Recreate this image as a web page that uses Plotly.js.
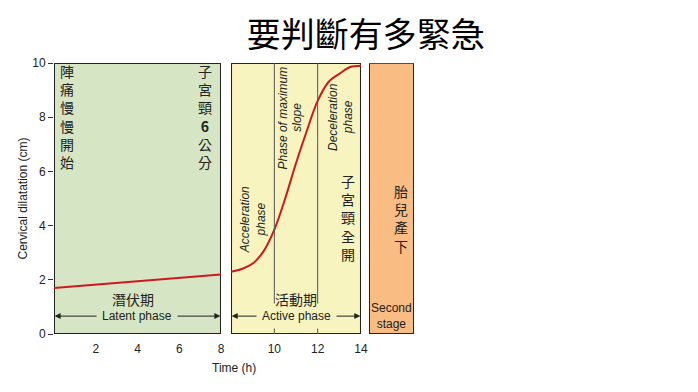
<!DOCTYPE html>
<html>
<head>
<meta charset="utf-8">
<script src="https://cdn.plot.ly/plotly-3.0.1.min.js"></script>
<style>html,body{margin:0;padding:0;background:#fff;}#chart{width:698px;height:392px;}</style>
</head>
<body>
<div id="chart"></div>
<script>
// Data
const latentTime = [0, 8];
const latentDilation = [1.7, 2.2];
const activeTime = [8, 8.5, 9, 9.5, 10, 10.5, 11, 11.5, 12, 12.5, 13, 13.5, 14];
const activeDilation = [2.3, 2.4, 2.6, 3.05, 3.85, 5.0, 6.3, 7.5, 8.6, 9.3, 9.6, 9.85, 9.9];
const latentTicks = [2, 4, 6, 8];
const activeTicks = [10, 12, 14];
const phaseBoundaries = [10, 12];
const yTicks = [0, 2, 4, 6, 8, 10];

const GREEN = '#d6e6c4', YELLOW = '#f8f4c0', ORANGE = '#f9bd84';
const RED = '#cc1a1a', BORDER = '#222';
const CJK = '"Noto Sans CJK TC", "Noto Sans CJK SC", sans-serif';
const LAT = '"Liberation Sans", Arial, sans-serif';

const traces = [
  {x: latentTime, y: latentDilation, xaxis: 'x', yaxis: 'y', mode: 'lines',
   line: {color: RED, width: 2}, hoverinfo: 'skip', showlegend: false},
  {x: activeTime, y: activeDilation, xaxis: 'x2', yaxis: 'y', mode: 'lines',
   line: {color: RED, width: 2, shape: 'spline', smoothing: 1}, hoverinfo: 'skip', showlegend: false}
];

const shapes = [
  {type: 'rect', xref: 'x', yref: 'y', x0: 0, x1: 8, y0: 0, y1: 10, fillcolor: GREEN, line: {color: BORDER, width: 2}, layer: 'below'},
  {type: 'rect', xref: 'x2', yref: 'y', x0: 8, x1: 14, y0: 0, y1: 10, fillcolor: YELLOW, line: {color: BORDER, width: 2}, layer: 'below'},
  {type: 'rect', xref: 'x3', yref: 'y', x0: 0, x1: 1, y0: 0, y1: 10, fillcolor: ORANGE, line: {color: BORDER, width: 2}, layer: 'below'},
  {type: 'line', xref: 'x3', yref: 'y', x0: 0, x1: 1, y0: 10, y1: 10, line: {color: RED, width: 2}}
];
phaseBoundaries.forEach(v => shapes.push({type: 'line', xref: 'x2', yref: 'y', x0: v, x1: v, y0: 0, y1: 10, line: {color: '#555', width: 1}}));

function vert(s) { return s.split('').join('<br>'); }

const ann = [];
// arrows
function arrow(xr, from, to, y) {
  ann.push({xref: xr, yref: 'y', x: to, y: y, ax: from, ay: y, axref: xr, ayref: 'y', text: '', showarrow: true,
    arrowhead: 2, arrowsize: 1.2, arrowwidth: 1, arrowcolor: '#222'});
}
arrow('x', 4, 0.03, 0.66); arrow('x', 4, 7.97, 0.66);
arrow('x2', 11, 8.03, 0.66); arrow('x2', 11, 13.97, 0.66);
ann.push({xref: 'x', yref: 'y', x: 4, y: 0.66, text: 'Latent phase', showarrow: false, bgcolor: GREEN, borderpad: 5,
  font: {family: LAT, size: 12, color: '#222'}});
ann.push({xref: 'x2', yref: 'y', x: 11, y: 0.66, text: 'Active phase', showarrow: false, bgcolor: YELLOW, borderpad: 5,
  font: {family: LAT, size: 12, color: '#222'}});
ann.push({xref: 'x', yref: 'y', x: 3.8, y: 1.3, text: '潛伏期', showarrow: false, font: {family: CJK, size: 14, color: '#222'}});
ann.push({xref: 'x2', yref: 'y', x: 11.02, y: 1.3, text: '活動期', showarrow: false, font: {family: CJK, size: 14, color: '#222'}});
ann.push({xref: 'x3', yref: 'y', x: 0.5, y: 0.66, text: 'Second<br>stage', showarrow: false, font: {family: LAT, size: 12, color: '#222'}});

// vertical CJK text
ann.push({xref: 'x', yref: 'y', x: 0.63, y: 8.04, text: vert('陣痛慢慢開始'), showarrow: false, font: {family: CJK, size: 14, color: '#222'}});
ann.push({xref: 'x', yref: 'y', x: 7.24, y: 8.04, text: '子<br>宮<br>頸<br><b>6</b><br>公<br>分', showarrow: false, font: {family: CJK, size: 14, color: '#222'}});
ann.push({xref: 'x2', yref: 'y', x: 13.4, y: 4.3, text: vert('子宮頸全開'), showarrow: false, font: {family: CJK, size: 14, color: '#222'}});
ann.push({xref: 'x3', yref: 'y', x: 0.7, y: 4.28, text: vert('胎兒產下'), showarrow: false, font: {family: CJK, size: 14, color: '#222'}});

// rotated phase labels
function rot(x, y, t) {
  ann.push({xref: 'x2', yref: 'y', x: x, y: y, text: '<i>' + t + '</i>', textangle: -90, showarrow: false,
    font: {family: LAT, size: 12, color: '#222'}});
}
rot(8.65, 4.2, 'Acceleration'); rot(9.4, 4.24, 'phase');
rot(10.42, 7.97, 'Phase of maximum'); rot(11.07, 8.0, 'slope');
rot(12.7, 8.0, 'Deceleration'); rot(13.4, 8.0, 'phase');

// axis titles
ann.push({xref: 'paper', yref: 'paper', x: 0.5, y: -0.125, yanchor: 'middle', text: 'Time (h)', showarrow: false, font: {family: LAT, size: 12, color: '#222'}});

const layout = {
  width: 698, height: 392,
  margin: {l: 54, r: 284, t: 63, b: 58},
  paper_bgcolor: '#fff', plot_bgcolor: 'rgba(0,0,0,0)',
  showlegend: false,
  title: {text: '要判斷有多緊急', font: {family: CJK, size: 34, color: '#000'}, xref: 'container', yref: 'container',
    x: 0.524, y: 0.911, xanchor: 'center', yanchor: 'middle'},
  xaxis: {domain: [0, 0.4639], range: [0, 8.001], tickvals: latentTicks, ticktext: latentTicks.map(String),
    ticks: '', ticklabelstandoff: 6, showgrid: false, zeroline: false, showline: false, anchor: 'y',
    tickfont: {family: LAT, size: 12, color: '#222'}},
  xaxis2: {domain: [0.4917, 0.8528], range: [7.999, 14.001], tickvals: activeTicks, ticktext: activeTicks.map(String),
    ticks: '', ticklabelstandoff: 6, showgrid: false, zeroline: false, showline: false, anchor: 'y',
    tickfont: {family: LAT, size: 12, color: '#222'}},
  xaxis3: {domain: [0.875, 1], range: [0, 1], showticklabels: false, ticks: '', showgrid: false, zeroline: false, showline: false, anchor: 'y'},
  yaxis: {range: [0, 10], tickvals: yTicks, ticks: 'outside', ticklen: 5, tickcolor: '#333', showgrid: false, zeroline: false,
    showline: false, tickfont: {family: LAT, size: 12, color: '#222'},
    title: {text: 'Cervical dilatation (cm)', font: {family: LAT, size: 12, color: '#222'}, standoff: 2}},
  shapes: shapes,
  annotations: ann
};

Plotly.newPlot('chart', traces, layout, {displayModeBar: false, staticPlot: true});
</script>
</body>
</html>
